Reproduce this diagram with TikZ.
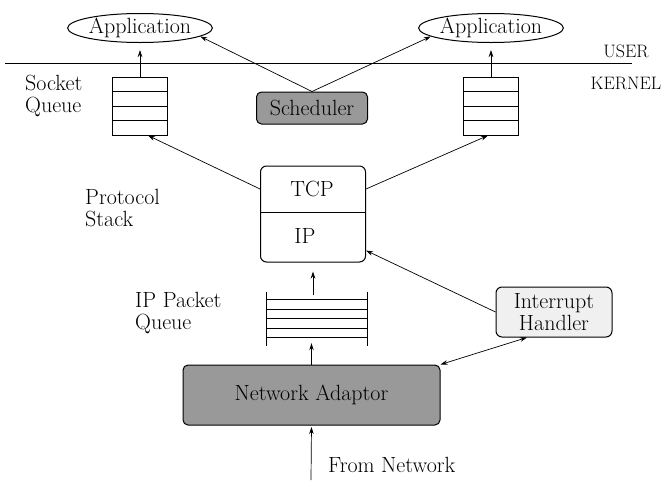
\documentclass[tikz,border=0pt]{standalone}
\usepackage{tikz}
\usetikzlibrary{shapes.geometric, arrows.meta, calc}

\tikzset{
  lbl/.style = {font=\fontsize{22}{22}\selectfont, align=left, inner sep=0pt},
  app/.style = {ellipse, draw, line width=1pt, minimum width=121pt, minimum height=29pt, inner sep=0pt, font=\fontsize{22}{22}\selectfont},
  sockq/.style = {draw, line width=1pt, minimum width=55pt, minimum height=58pt, inner sep=0pt},
  graybox/.style = {draw, line width=1pt, rounded corners=5pt, fill=black!40, inner sep=0pt, font=\fontsize{22}{22}\selectfont},
  arr/.style = {-{Stealth[length=7pt,width=4.5pt]}, line width=0.7pt},
  darr/.style = {{Stealth[length=7pt,width=4.5pt]}-{Stealth[length=7pt,width=4.5pt]}, line width=0.7pt},
}

\begin{document}
\begin{tikzpicture}[x=1pt, y=-1pt]
  \useasboundingbox (0,0) rectangle (665,480);
  % user / kernel line
  \draw[line width=1pt] (5,63) -- (632,63);
  \node[lbl, font=\fontsize{18}{20}\selectfont] (user) at (626,51) {USER};
  \node[lbl, font=\fontsize{18}{20}\selectfont] (kernel) at (626,83) {KERNEL};

  \node[app] (lapp) at (140,28) {Application};
  \node[app] (rapp) at (491,28) {Application};

  % socket queues
  \node[sockq] (lq) at (140,106) {};
  \node[sockq] (rq) at (491,106) {};
  \foreach \q in {lq,rq}
    \foreach \f in {0.25,0.5,0.75}
      \draw[line width=0.7pt] ($(\q.north west)!\f!(\q.south west)$) -- ($(\q.north east)!\f!(\q.south east)$);
  \node[lbl, anchor=west] (sockl) at (25,96) {Socket\\Queue};

  \node[graybox, minimum width=111pt, minimum height=32pt] (sched) at (312,108) {Scheduler};

  % protocol stack
  \node[draw, line width=1pt, rounded corners=6pt, minimum width=105pt, minimum height=96pt] (stack) at (313,214) {};
  \draw[line width=1pt] ([yshift=2pt]stack.west) -- ([yshift=2pt]stack.east);
  \node[lbl] (tcp) at (312,189) {TCP};
  \node[lbl] (ip) at (305,236) {IP};
  \node[lbl, anchor=west] (protl) at (85,208) {Protocol\\Stack};

  % ip packet queue
  \node[minimum width=100pt, minimum height=37pt, inner sep=0pt] (pq) at (317,318.5) {};
  \foreach \f in {0,0.25,0.5,0.75,1}
    \draw[line width=0.7pt] ($(pq.north west)!\f!(pq.south west)$) -- ($(pq.north east)!\f!(pq.south east)$);
  \draw[line width=1pt] ([yshift=8pt]pq.north west) -- ([yshift=-9pt]pq.south west);
  \draw[line width=1pt] ([yshift=8pt]pq.north east) -- ([yshift=-9pt]pq.south east);
  \node[lbl, anchor=west] (ipql) at (135,313) {IP Packet\\Queue};

  \node[graybox, minimum width=257pt, minimum height=60pt] (adapt) at (311.5,395) {Network Adaptor};
  \node[draw, line width=1pt, rounded corners=6pt, fill=gray!12, minimum width=116pt, minimum height=50pt, lbl, align=center] (intr) at (554,312) {Interrupt\\Handler};

  \coordinate (net) at (311,480);
  \node[lbl, anchor=west] (netl) at (328,465) {From Network};

  % connectors
  \draw[arr, shorten >=1.5pt] (net) -- (adapt.south);
  \draw[arr, shorten >=6pt] (adapt.north) -- (adapt.north |- pq.south);
  \draw[arr, shorten <=5pt, shorten >=9pt] (stack.south |- pq.north) -- (stack.south);
  \draw[arr] (intr.west) -- ([yshift=12pt]stack.south east);
  \draw[darr] (adapt.north east) -- ([xshift=-27pt]intr.south);
  \draw[arr] (stack.west |- tcp) -- ([xshift=8pt]lq.south);
  \draw[arr] (stack.east |- tcp) -- ([xshift=-3pt]rq.south);
  \draw[arr, shorten >=7pt] (lq.north) -- (lapp.south);
  \draw[arr, shorten >=7pt] (rq.north) -- (rapp.south);
  \draw[arr] (sched.north) -- (lapp.-8);
  \draw[arr] (sched.north) -- (rapp.188);
\end{tikzpicture}
\end{document}
